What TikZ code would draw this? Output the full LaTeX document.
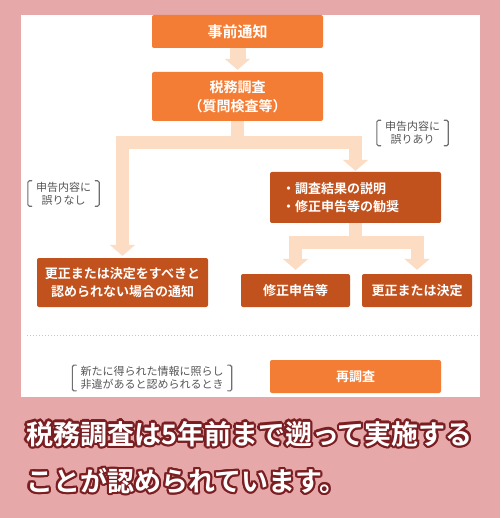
\documentclass[tikz,border=0pt]{standalone}
\usepackage{fontspec}
\newfontfamily\jpfont{Noto Sans CJK JP}[BoldFont={Noto Sans CJK JP Bold}]
\usepackage{contour}
\usetikzlibrary{positioning,arrows.meta,calc}
\usepackage{xcolor}
\definecolor{bgpink}{HTML}{E6A8A8}
\definecolor{boxorange}{HTML}{F47D35}
\definecolor{boxrust}{HTML}{C1521E}
\definecolor{flowpeach}{HTML}{FDDCC4}
\definecolor{notegray}{HTML}{555555}
\definecolor{capred}{HTML}{7A1E22}
\contourlength{2.2pt}

\begin{document}
\begin{tikzpicture}[
    x=1pt,y=-1pt,
    stepbox/.style={draw=none,rounded corners=2pt,text=white,inner sep=0pt,align=center,font=\jpfont\bfseries\fontsize{13}{18}\selectfont},
    mainbox/.style={stepbox,fill=boxorange},
    resultbox/.style={stepbox,fill=boxrust},
    flow/.style={draw=flowpeach,line width=13pt},
    flowtip/.style={flow,-{Triangle[length=11pt,width=25pt]},shorten >=2pt},
    note/.style={text=notegray,align=center,inner xsep=8pt,inner ysep=1pt,font=\jpfont\fontsize{11}{13}\selectfont},
    bracket/.style={draw=notegray!85,line width=1.1pt,rounded corners=1.5pt,line cap=round},
    caption/.style={text=white,anchor=west,inner sep=0pt,font=\jpfont\bfseries\fontsize{27}{30}\selectfont},
]
\useasboundingbox (0,0) rectangle (500,518);
\fill[bgpink] (0,0) rectangle (500,518);
\fill[white] (21,15) rectangle (480,397);

% flow boxes
\node[mainbox,minimum width=171pt,minimum height=33pt,font=\jpfont\bfseries\fontsize{15}{18}\selectfont] (notice) at (237.5,31.5) {事前通知};
\node[mainbox,minimum width=171pt,minimum height=49pt,font=\jpfont\bfseries\fontsize{14}{19}\selectfont] (zeimu) at (237.5,96.5) {税務調査\\（質問検査等）};
\node[resultbox,minimum height=51pt,text width=147pt,inner xsep=12pt,align=left] (expl) at (355.5,197.5) {・調査結果の説明\\・修正申告等の勧奨};
\node[resultbox,minimum width=171pt,minimum height=49pt] (nochange) at (122.5,282.5) {更正または決定をすべきと\\認められない場合の通知};
\node[resultbox,minimum width=109pt,minimum height=33pt] (amend) at (295.5,290.5) {修正申告等};
\node[resultbox,minimum width=110pt,minimum height=33pt] (decide) at (417,290.5) {更正または決定};
\node[mainbox,minimum width=171pt,minimum height=33pt] (reinv) at (355.5,376.5) {再調査};

% side notes
\node[note] (noteyes) at (412.5,133) {申告内容に\\誤りあり};
\node[note] (noteno) at (63.5,193.5) {申告内容に\\誤りなし};
\node[note] (notenew) at (152,378) {新たに得られた情報に照らし\\非違があると認められるとき};
\foreach \n in {noteyes,noteno,notenew}{
  \draw[bracket] ([xshift=4pt]\n.north west) -- (\n.north west) -- (\n.south west) -- ([xshift=4pt]\n.south west);
  \draw[bracket] ([xshift=-4pt]\n.north east) -- (\n.north east) -- (\n.south east) -- ([xshift=-4pt]\n.south east);
}

% arrows
\coordinate (split1) at ($(zeimu.south)+(0,21.5)$);
\coordinate (split2) at ($(expl.south)+(0,19)$);
\draw[flowtip,line width=16pt] (notice.south) -- (zeimu.north);
\draw[flow] (zeimu.south) -- (split1);
\draw[flowtip] (split1) -| (nochange.north);
\draw[flowtip,shorten >=1pt] (split1) -| (expl.north);
\draw[flow] (expl.south) -- (split2);
\draw[flowtip,shorten >=4pt] (split2) -| (amend.north);
\draw[flowtip,shorten >=4pt] (split2) -| (decide.north);

\draw[dotted,line width=1pt,gray!45] (27,335) -- (478,335);

% caption
\node[caption] (cap1) at (26,435) {\contour{capred}{税務調査は5年前まで遡って実施する}};
\node[caption] (cap2) at (26,482) {\contour{capred}{ことが認められています。}};
\end{tikzpicture}
\end{document}
